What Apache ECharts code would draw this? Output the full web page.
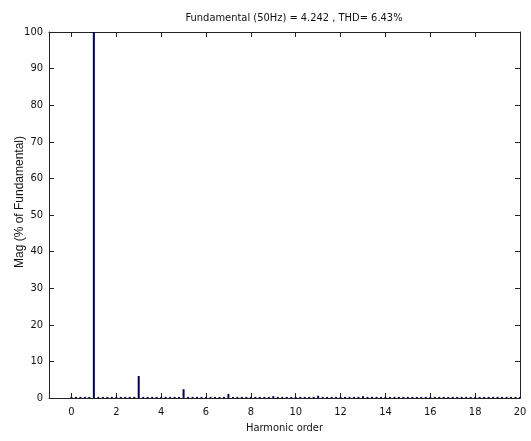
<!DOCTYPE html>
<html>
<head>
<meta charset="utf-8">
<script src="https://cdn.jsdelivr.net/npm/echarts@6/dist/echarts.min.js"></script>
<style>
  html, body { margin: 0; padding: 0; background: #fff; }
  #chart { width: 531px; height: 441px; }
</style>
</head>
<body>
<div id="chart"></div>
<script>
  // harmonic order of every FFT bin (10 Hz resolution = 0.2 harmonic)
  var harmonicOrder = [
    0, 0.2, 0.4, 0.6, 0.8, 1, 1.2, 1.4, 1.6, 1.8,
    2, 2.2, 2.4, 2.6, 2.8, 3, 3.2, 3.4, 3.6, 3.8,
    4, 4.2, 4.4, 4.6, 4.8, 5, 5.2, 5.4, 5.6, 5.8,
    6, 6.2, 6.4, 6.6, 6.8, 7, 7.2, 7.4, 7.6, 7.8,
    8, 8.2, 8.4, 8.6, 8.8, 9, 9.2, 9.4, 9.6, 9.8,
    10, 10.2, 10.4, 10.6, 10.8, 11, 11.2, 11.4, 11.6, 11.8,
    12, 12.2, 12.4, 12.6, 12.8, 13, 13.2, 13.4, 13.6, 13.8,
    14, 14.2, 14.4, 14.6, 14.8, 15, 15.2, 15.4, 15.6, 15.8,
    16, 16.2, 16.4, 16.6, 16.8, 17, 17.2, 17.4, 17.6, 17.8,
    18, 18.2, 18.4, 18.6, 18.8, 19, 19.2, 19.4, 19.6, 19.8,
    20
  ]
  // magnitude in % of fundamental
  var magnitude = [
    0.3, 0.3, 0.3, 0.3, 0.3, 100, 0.3, 0.3, 0.3, 0.3,
    0.3, 0.3, 0.3, 0.3, 0.3, 6.0, 0.3, 0.3, 0.3, 0.3,
    0.3, 0.3, 0.3, 0.3, 0.3, 2.4, 0.3, 0.3, 0.3, 0.3,
    0.3, 0.3, 0.3, 0.3, 0.3, 1.1, 0.3, 0.3, 0.3, 0.3,
    0.3, 0.3, 0.3, 0.3, 0.3, 0.5, 0.3, 0.3, 0.3, 0.3,
    0.3, 0.3, 0.3, 0.3, 0.3, 0.6, 0.3, 0.3, 0.3, 0.3,
    0.3, 0.3, 0.3, 0.3, 0.3, 0.5, 0.3, 0.3, 0.3, 0.3,
    0.3, 0.3, 0.3, 0.3, 0.3, 0.3, 0.3, 0.3, 0.3, 0.3,
    0.3, 0.3, 0.3, 0.3, 0.3, 0.3, 0.3, 0.3, 0.3, 0.3,
    0.3, 0.3, 0.3, 0.3, 0.3, 0.3, 0.3, 0.3, 0.3, 0.3,
    0.3
  ]
  var xTicks = [0, 2, 4, 6, 8, 10, 12, 14, 16, 18, 20]
  var titleText = 'Fundamental (50Hz) = 4.242 , THD= 6.43%'

  var numFont = '"Liberation Sans Narrow", "DejaVu Sans Condensed", "Liberation Sans", Arial, sans-serif'
  var axisColor = '#222'

  var barData = harmonicOrder.map(function (h, i) {
    return [h, magnitude[i]]
  })

  var chart = echarts.init(document.getElementById('chart'))
  chart.setOption({
    animation: false,
    backgroundColor: '#fff',
    title: {
      text: titleText,
      left: 289,
      textAlign: 'center',
      top: 8,
      textStyle: { fontFamily: numFont, fontSize: 11, fontWeight: 'normal', color: '#111' }
    },
    grid: { left: 49, right: 11, top: 32, bottom: 43, outerBoundsMode: 'none', containLabel: false },
    xAxis: [{
      type: 'value',
      min: -1,
      max: 20,
      name: 'Harmonic order',
      nameLocation: 'middle',
      nameGap: 24,
      nameTextStyle: { fontFamily: numFont, fontSize: 11, color: '#111' },
      axisLine: { show: true, onZero: false, lineStyle: { color: axisColor } },
      axisTick: { show: true, inside: true, length: 5, customValues: xTicks, lineStyle: { color: axisColor } },
      axisLabel: { customValues: xTicks, fontFamily: numFont, fontSize: 11, color: '#111', margin: 9 },
      splitLine: { show: false }
    }, {
      type: 'value',
      position: 'top',
      min: -1,
      max: 20,
      axisLine: { show: true, onZero: false, lineStyle: { color: axisColor } },
      axisTick: { show: true, inside: true, length: 5, customValues: xTicks, lineStyle: { color: axisColor } },
      axisLabel: { show: false },
      splitLine: { show: false }
    }],
    yAxis: [{
      type: 'value',
      min: 0,
      max: 100,
      interval: 10,
      name: 'Mag (% of Fundamental)',
      nameLocation: 'middle',
      nameGap: 23,
      nameMoveOverlap: false,
      nameTextStyle: {
        fontFamily: 'Liberation Sans, Arial, sans-serif', fontSize: 12, color: '#111',
        padding: [0, 0, 0, 26]
      },
      axisLine: { show: true, onZero: false, lineStyle: { color: axisColor } },
      axisTick: { show: true, inside: true, length: 5, lineStyle: { color: axisColor } },
      axisLabel: { fontFamily: numFont, fontSize: 11, color: '#111', margin: 6 },
      splitLine: { show: false }
    }, {
      type: 'value',
      position: 'right',
      min: 0,
      max: 100,
      interval: 10,
      axisLine: { show: true, onZero: false, lineStyle: { color: axisColor } },
      axisTick: { show: true, inside: true, length: 5, lineStyle: { color: axisColor } },
      axisLabel: { show: false },
      splitLine: { show: false }
    }],
    series: [{
      type: 'bar',
      xAxisIndex: 0,
      yAxisIndex: 0,
      barWidth: 2,
      data: barData,
      itemStyle: { color: '#00004d' }
    }]
  })
</script>
</body>
</html>
